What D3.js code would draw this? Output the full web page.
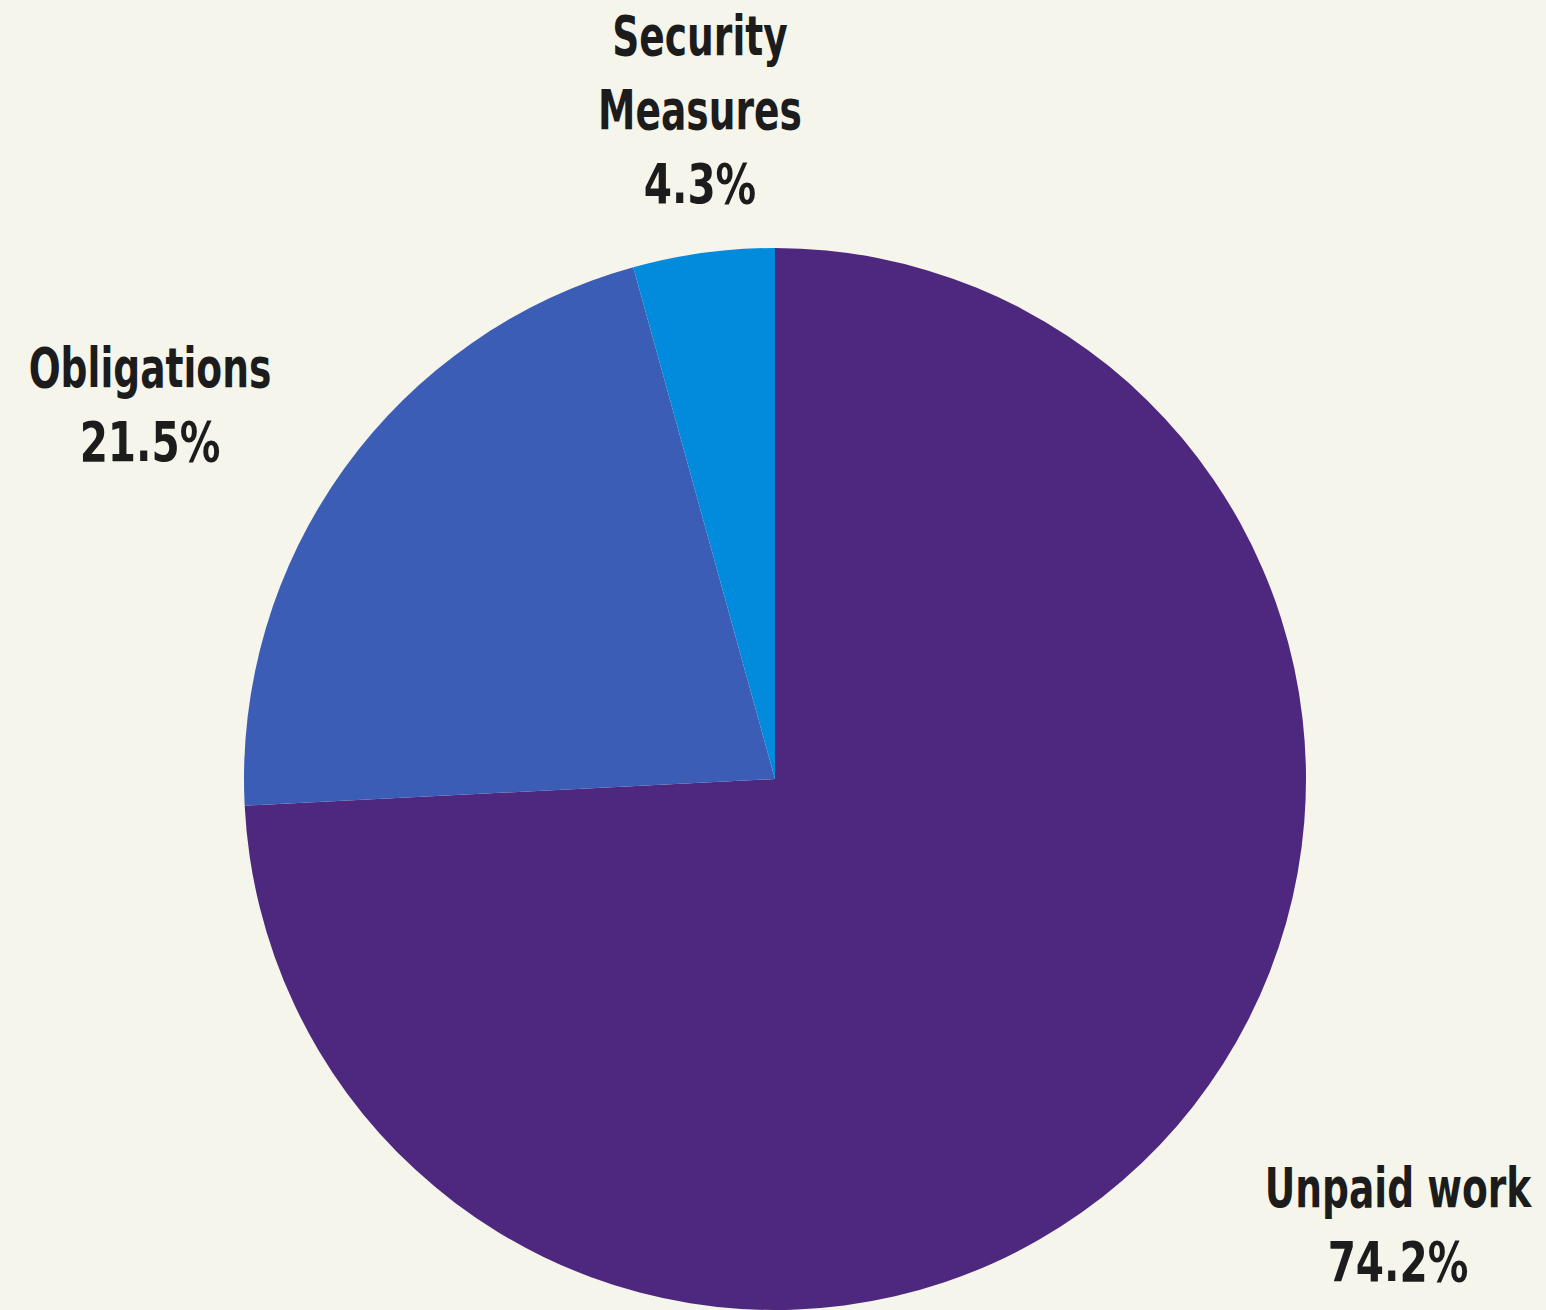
<!DOCTYPE html>
<html>
<head>
<meta charset="utf-8">
<script src="https://cdn.jsdelivr.net/npm/d3@7"></script>
<style>
  html, body { margin: 0; padding: 0; background: #f5f5eb; }
  svg { display: block; }
  .lbl { font-family: "DejaVu Sans Condensed", "DejaVu Sans", sans-serif; font-weight: bold; fill: #1c1c1c; }
</style>
</head>
<body>
<div id="chart"></div>
<script>
// data
const categories = ['Unpaid work', 'Obligations', 'Security Measures'];
const shares = [74.2, 21.5, 4.3];
const labelLines = [['Unpaid work'], ['Obligations'], ['Security', 'Measures']];
const colors = ['#4e277e', '#3b5db5', '#028bdc'];

const width = 1546;
const height = 1310;
const cx = 775;
const cy = 779;
const radius = 531;
const fontSize = 55;
const lineHeight = 74;

// where each label block sits, relative to pie centre (first baseline)
const labelOffsets = [
  {dx: 623, dy: 428},
  {dx: -625, dy: -392},
  {dx: -75, dy: -724},
];

let svg = d3.select('#chart').append('svg')
    .attr('width', width)
    .attr('height', height);

let pie = d3.pie()
    .sort(null)
    .value(function(d) { return d; });

let arc = d3.arc()
    .innerRadius(0)
    .outerRadius(radius);

let arcs = pie(shares);

let g = svg.append('g')
    .attr('transform', 'translate(' + cx + ',' + cy + ')');

g.selectAll('path')
  .data(arcs)
  .enter().append('path')
    .attr('d', arc)
    .attr('fill', function(d, i) { return colors[i]; });

let labels = g.selectAll('g.label')
  .data(arcs)
  .enter().append('g')
    .attr('class', 'label')
    .attr('transform', function(d, i) {
      return 'translate(' + labelOffsets[i].dx + ',' + labelOffsets[i].dy + ')';
    });

labels.each(function(d, i) {
  let lg = d3.select(this);
  let lines = labelLines[i].map(function(s) { return {text: s, sx: 0.76}; });
  lines.push({text: d3.format('.1f')(shares[i]) + '%', sx: 0.82});
  lines.forEach(function(line, j) {
    lg.append('text')
        .attr('class', 'lbl')
        .attr('text-anchor', 'middle')
        .attr('font-size', fontSize)
        .attr('transform', 'translate(0,' + (j * lineHeight) + ') scale(' + line.sx + ',1)')
        .text(line.text);
  });
});
</script>
</body>
</html>
